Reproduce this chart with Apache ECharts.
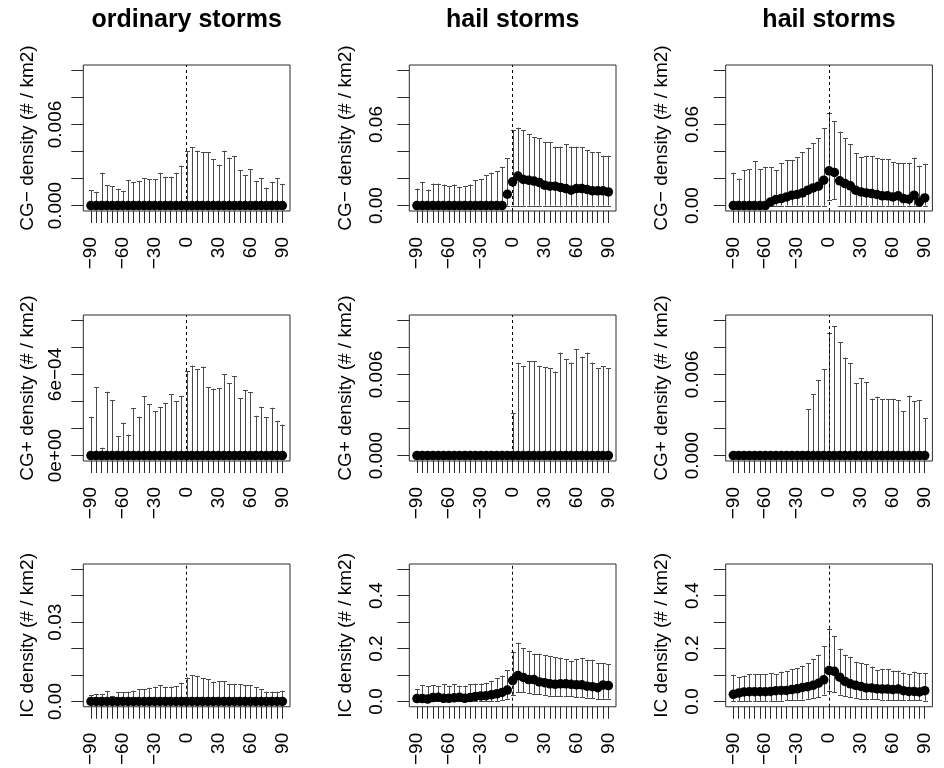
<!DOCTYPE html>
<html><head><meta charset="utf-8">
<script src="https://cdn.jsdelivr.net/npm/echarts@6/dist/echarts.min.js"></script>
<style>html,body{margin:0;padding:0;background:#fff}#c{width:944px;height:768px}</style>
</head><body><div id="c"></div>
<script>
// ---------- data ----------
const offsets = [-90,-85,-80,-75,-70,-65,-60,-55,-50,-45,-40,-35,-30,-25,-20,-15,-10,-5,0,5,10,15,20,25,30,35,40,45,50,55,60,65,70,75,80,85,90];
const xLabelValues = [-90,-60,-30,0,30,60,90];
const xLabelText = ["\u221290","\u221260","\u221230","0","30","60","90"];

const columnTitles = ["ordinary storms","hail storms","hail storms"];
const rowTitles = ["CG\u2212 density (# / km2)","CG+ density (# / km2)","IC density (# / km2)"];

// CG- , ordinary storms
const ordCGnMedian = [0,0,0,0,0,0,0,0,0,0,0,0,0,0,0,0,0,0,0,0,0,0,0,0,0,0,0,0,0,0,0,0,0,0,0,0,0];
const ordCGnLower  = [0,0,0,0,0,0,0,0,0,0,0,0,0,0,0,0,0,0,0,0,0,0,0,0,0,0,0,0,0,0,0,0,0,0,0,0,0];
const ordCGnUpper  = [0.00114,0.00102,0.00243,0.00149,0.00144,0.00124,0.00109,0.00188,0.00171,0.00183,0.00201,0.00196,0.00196,0.00243,0.00213,0.00213,0.00243,0.00295,0.00404,0.00434,0.00406,0.00394,0.00394,0.00342,0.00302,0.00406,0.00354,0.00367,0.00263,0.00223,0.00268,0.00183,0.00203,0.00131,0.00176,0.00203,0.00161];
// CG- , hail storms (A)
const hailACGnMedian = [0,0,0,0,0,0,0,0,0,0,0,0,0,0,0,0,0,0.0084,0.0176,0.0218,0.0193,0.0188,0.0181,0.0171,0.0151,0.0144,0.0144,0.0134,0.0126,0.0114,0.0126,0.0126,0.0119,0.0109,0.0109,0.0109,0.0101];
const hailACGnLower  = [0,0,0,0,0,0,0,0,0,0,0,0,0,0,0,0,0,0,0,0,0,0,0,0,0,0,0,0,0,0,0,0,0,0,0,0,0];
const hailACGnUpper  = [0.0126,0.0176,0.0119,0.0163,0.0163,0.0156,0.0144,0.0156,0.0139,0.0144,0.0156,0.0188,0.0198,0.0223,0.0243,0.0255,0.0287,0.0349,0.0559,0.0577,0.0559,0.0527,0.0505,0.0497,0.0468,0.0468,0.0436,0.0436,0.0453,0.0436,0.0436,0.0431,0.0411,0.0394,0.0394,0.0369,0.0369];
// CG- , hail storms (B)
const hailBCGnMedian = [0,0,0,0,0,0,0,0.0027,0.0045,0.0052,0.0064,0.0077,0.0082,0.0094,0.0114,0.0131,0.0144,0.0188,0.0257,0.0245,0.0183,0.0163,0.0146,0.0114,0.0101,0.0094,0.0089,0.0082,0.0072,0.0072,0.0064,0.0072,0.0052,0.0047,0.0077,0.0027,0.0057];
const hailBCGnLower  = [0,0,0,0,0,0,0,0,0,0,0,0,0,0,0,0,0,0,0.0040,0.0047,0,0,0,0,0,0,0,0,0,0,0,0,0,0,0,0,0];
const hailBCGnUpper  = [0.0243,0.0200,0.0262,0.0270,0.0329,0.0270,0.0287,0.0282,0.0262,0.0312,0.0337,0.0337,0.0356,0.0394,0.0428,0.0460,0.0497,0.0572,0.0688,0.0626,0.0547,0.0497,0.0453,0.0386,0.0361,0.0366,0.0366,0.0349,0.0347,0.0344,0.0319,0.0317,0.0312,0.0317,0.0354,0.0295,0.0307];
// CG+ , ordinary storms
const ordCGpMedian = [0,0,0,0,0,0,0,0,0,0,0,0,0,0,0,0,0,0,0,0,0,0,0,0,0,0,0,0,0,0,0,0,0,0,0,0,0];
const ordCGpLower  = [0,0,0,0,0,0,0,0,0,0,0,0,0,0,0,0,0,0,0,0,0,0,0,0,0,0,0,0,0,0,0,0,0,0,0,0,0];
const ordCGpUpper  = [0.000287,0.000505,0.000059,0.000473,0.000411,0.000144,0.000243,0.000156,0.000349,0.000287,0.000441,0.000381,0.000329,0.000356,0.000389,0.000453,0.000403,0.000441,0.000626,0.000666,0.000641,0.000658,0.000505,0.000495,0.000500,0.000604,0.000535,0.000589,0.000423,0.000483,0.000468,0.000295,0.000361,0.000282,0.000354,0.000257,0.000230];
// CG+ , hail storms (A)
const hailACGpMedian = [0,0,0,0,0,0,0,0,0,0,0,0,0,0,0,0,0,0,0,0,0,0,0,0,0,0,0,0,0,0,0,0,0,0,0,0,0];
const hailACGpLower  = [0,0,0,0,0,0,0,0,0,0,0,0,0,0,0,0,0,0,0,0,0,0,0,0,0,0,0,0,0,0,0,0,0,0,0,0,0];
const hailACGpUpper  = [0,0,0,0,0,0,0,0,0,0,0,0,0,0,0,0,0,0,0.00312,0.00688,0.00663,0.00700,0.00700,0.00663,0.00653,0.00648,0.00621,0.00762,0.00713,0.00688,0.00787,0.00733,0.00762,0.00688,0.00648,0.00661,0.00646];
// CG+ , hail storms (B)
const hailBCGpMedian = [0,0,0,0,0,0,0,0,0,0,0,0,0,0,0,0,0,0,0,0,0,0,0,0,0,0,0,0,0,0,0,0,0,0,0,0,0];
const hailBCGpLower  = [0,0,0,0,0,0,0,0,0,0,0,0,0,0,0,0,0,0,0,0,0,0,0,0,0,0,0,0,0,0,0,0,0,0,0,0,0];
const hailBCGpUpper  = [0,0,0,0,0,0,0,0,0,0,0,0,0,0,0.00344,0.00455,0.00557,0.00641,0.00906,0.00955,0.00837,0.00725,0.00683,0.00535,0.00572,0.00542,0.00421,0.00436,0.00416,0.00416,0.00421,0.00411,0.00329,0.00443,0.00403,0.00411,0.00275];
// IC , ordinary storms
const ordICMedian = [0,0,0,0,0,0,0,0,0,0,0,0,0,0,0,0,0,0,0,0,0,0,0,0,0,0,0,0,0,0,0,0,0,0,0,0,0];
const ordICLower  = [0,0,0,0,0,0,0,0,0,0,0,0,0,0,0,0,0,0,0,0,0,0,0,0,0,0,0,0,0,0,0,0,0,0,0,0,0];
const ordICUpper  = [0.00248,0.00285,0.00285,0.00397,0.00211,0.00347,0.00347,0.00372,0.00410,0.00472,0.00472,0.00521,0.00558,0.00621,0.00558,0.00558,0.00583,0.00707,0.00906,0.00993,0.00968,0.00894,0.00844,0.00745,0.00769,0.00769,0.00670,0.00645,0.00645,0.00621,0.00621,0.00546,0.00472,0.00372,0.00372,0.00372,0.00410];
// IC , hail storms (A)
const hailAICMedian = [0.011,0.011,0.009,0.015,0.016,0.012,0.012,0.014,0.016,0.012,0.015,0.019,0.021,0.022,0.025,0.029,0.034,0.043,0.079,0.098,0.091,0.083,0.083,0.074,0.071,0.067,0.065,0.067,0.067,0.065,0.063,0.063,0.058,0.056,0.052,0.062,0.060];
const hailAICLower  = [0,0,0,0,0,0,0,0,0,0,0,0,0,0,0,0,0.006,0.010,0.025,0.035,0.034,0.031,0.029,0.027,0.025,0.022,0.021,0.020,0.020,0.019,0.017,0.016,0.015,0.012,0.009,0.010,0.011];
const hailAICUpper  = [0.047,0.062,0.058,0.062,0.058,0.065,0.060,0.065,0.060,0.060,0.065,0.068,0.068,0.071,0.078,0.087,0.098,0.118,0.189,0.223,0.202,0.192,0.181,0.181,0.174,0.171,0.168,0.165,0.161,0.154,0.161,0.165,0.158,0.158,0.145,0.145,0.140];
// IC , hail storms (B)
const hailBICMedian = [0.027,0.032,0.036,0.037,0.037,0.037,0.037,0.038,0.041,0.042,0.042,0.045,0.048,0.053,0.056,0.061,0.069,0.082,0.117,0.114,0.092,0.076,0.067,0.061,0.057,0.051,0.051,0.048,0.047,0.047,0.045,0.047,0.041,0.038,0.038,0.036,0.041];
const hailBICLower  = [0.002,0.002,0.002,0.002,0.002,0.002,0.002,0.002,0.003,0.003,0.004,0.005,0.007,0.007,0.010,0.014,0.017,0.026,0.041,0.036,0.026,0.020,0.016,0.014,0.011,0.009,0.008,0.008,0.007,0.006,0.006,0.005,0.005,0.004,0.004,0.004,0.003];
const hailBICUpper  = [0.101,0.092,0.098,0.104,0.103,0.103,0.103,0.107,0.104,0.113,0.115,0.122,0.125,0.135,0.146,0.159,0.177,0.210,0.274,0.246,0.200,0.177,0.169,0.150,0.144,0.140,0.132,0.119,0.122,0.122,0.117,0.117,0.109,0.104,0.113,0.107,0.107];

// y-axis ticks and labels
const cgnOrdYTicks = [0,0.002,0.004,0.006,0.008,0.010];
const cgnOrdYLabelValues = [0,0.006];
const cgnOrdYLabelText = ["0.000","0.006"];
const cgnHailYTicks = [0,0.02,0.04,0.06,0.08,0.10];
const cgnHailYLabelValues = [0,0.06];
const cgnHailYLabelText = ["0.00","0.06"];
const cgpOrdYTicks = [0,0.0002,0.0004,0.0006,0.0008,0.0010];
const cgpOrdYLabelValues = [0,0.0006];
const cgpOrdYLabelText = ["0e+00","6e\u221204"];
const cgpHailYTicks = [0,0.002,0.004,0.006,0.008,0.010];
const cgpHailYLabelValues = [0,0.006];
const cgpHailYLabelText = ["0.000","0.006"];
const icOrdYTicks = [0,0.01,0.02,0.03,0.04,0.05];
const icOrdYLabelValues = [0,0.03];
const icOrdYLabelText = ["0.00","0.03"];
const icHailYTicks = [0,0.1,0.2,0.3,0.4,0.5];
const icHailYLabelValues = [0,0.2,0.4];
const icHailYLabelText = ["0.0","0.2","0.4"];

// ---------- layout ----------
const FONT = "'Liberation Sans', Arial, Helvetica, sans-serif";
const colLeft = [83.3, 409.3, 725.7];
const boxW = 206.7;
const rowTop = [65, 315, 564];
const boxH = [146, 146, 145];
const labelMargin = [18, 23, 23];
const nameGap = [46, 54, 54];

const panels = [
  {r:0,c:0,med:ordCGnMedian,lo:ordCGnLower,hi:ordCGnUpper,t:cgnOrdYTicks,lv:cgnOrdYLabelValues,lt:cgnOrdYLabelText},
  {r:0,c:1,med:hailACGnMedian,lo:hailACGnLower,hi:hailACGnUpper,t:cgnHailYTicks,lv:cgnHailYLabelValues,lt:cgnHailYLabelText},
  {r:0,c:2,med:hailBCGnMedian,lo:hailBCGnLower,hi:hailBCGnUpper,t:cgnHailYTicks,lv:cgnHailYLabelValues,lt:cgnHailYLabelText},
  {r:1,c:0,med:ordCGpMedian,lo:ordCGpLower,hi:ordCGpUpper,t:cgpOrdYTicks,lv:cgpOrdYLabelValues,lt:cgpOrdYLabelText},
  {r:1,c:1,med:hailACGpMedian,lo:hailACGpLower,hi:hailACGpUpper,t:cgpHailYTicks,lv:cgpHailYLabelValues,lt:cgpHailYLabelText},
  {r:1,c:2,med:hailBCGpMedian,lo:hailBCGpLower,hi:hailBCGpUpper,t:cgpHailYTicks,lv:cgpHailYLabelValues,lt:cgpHailYLabelText},
  {r:2,c:0,med:ordICMedian,lo:ordICLower,hi:ordICUpper,t:icOrdYTicks,lv:icOrdYLabelValues,lt:icOrdYLabelText},
  {r:2,c:1,med:hailAICMedian,lo:hailAICLower,hi:hailAICUpper,t:icHailYTicks,lv:icHailYLabelValues,lt:icHailYLabelText},
  {r:2,c:2,med:hailBICMedian,lo:hailBICLower,hi:hailBICUpper,t:icHailYTicks,lv:icHailYLabelValues,lt:icHailYLabelText}
];

function errRender(params, api) {
  const x = api.value(0), lo = api.value(1), hi = api.value(2);
  if (hi === lo) return null;
  const pLo = api.coord([x, lo]), pHi = api.coord([x, hi]);
  const px = Math.round(pLo[0]) + 0.5;
  const cap = 2.5;
  const st = {stroke:'#4a4a4a', lineWidth:1, fill:null};
  return {type:'group', children:[
    {type:'line', shape:{x1:px,y1:pLo[1],x2:px,y2:pHi[1]}, style:st},
    {type:'line', shape:{x1:px-cap,y1:Math.round(pHi[1])+0.5,x2:px+cap,y2:Math.round(pHi[1])+0.5}, style:st},
    {type:'line', shape:{x1:px-cap,y1:Math.round(pLo[1])+0.5,x2:px+cap,y2:Math.round(pLo[1])+0.5}, style:st}
  ]};
}

const xSpan = offsets[offsets.length-1] - offsets[0];
const grid = [], xAxis = [], yAxis = [], series = [];
panels.forEach((p, i) => {
  grid.push({left:colLeft[p.c], top:rowTop[p.r], width:boxW, height:boxH[p.r],
    show:true, borderColor:'#2a2a2a', borderWidth:1, backgroundColor:'transparent', containLabel:false});
  const pad = 0.04 * xSpan;
  xAxis.push({gridIndex:i, type:'value', min:offsets[0]-pad, max:offsets[offsets.length-1]+pad,
    axisLine:{show:false, onZero:false}, splitLine:{show:false},
    axisTick:{show:true, inside:false, length:12, customValues:offsets, lineStyle:{color:'#2a2a2a', width:1}},
    axisLabel:{show:true, customValues:xLabelValues, rotate:90, margin:26, fontSize:19, fontFamily:FONT, color:'#000',
      formatter: v => { const k = xLabelValues.findIndex(q => Math.abs(q - v) < 1e-9); return k >= 0 ? xLabelText[k] : ''; }}
  });
  const yt = p.t, ySpan = yt[yt.length-1] - yt[0];
  yAxis.push({gridIndex:i, type:'value', min:yt[0]-0.04*ySpan, max:yt[yt.length-1]+0.04*ySpan,
    axisLine:{show:false, onZero:false}, splitLine:{show:false},
    axisTick:{show:true, inside:false, length:12, customValues:yt, lineStyle:{color:'#2a2a2a', width:1}},
    axisLabel:{show:true, customValues:p.lv, rotate:90, margin:labelMargin[p.c], fontSize:19, fontFamily:FONT, color:'#000',
      formatter: v => { const k = p.lv.findIndex(q => Math.abs(q - v) < ySpan*1e-6); return k >= 0 ? p.lt[k] : ''; }},
    name: rowTitles[p.r], nameLocation:'middle', nameRotate:90, nameGap:nameGap[p.c],
    nameTextStyle:{fontSize:19, fontFamily:FONT, color:'#000'}
  });
  series.push({type:'custom', xAxisIndex:i, yAxisIndex:i, renderItem:errRender, silent:true, z:2,
    data: offsets.map((x, k) => [x, p.lo[k], p.hi[k]]),
    markLine:{silent:true, symbol:'none', label:{show:false}, animation:false,
      lineStyle:{color:'#000', type:[3,3], width:1, opacity:1}, data:[{xAxis:0}]}
  });
  series.push({type:'scatter', xAxisIndex:i, yAxisIndex:i, symbol:'circle', symbolSize:9.5, silent:true, z:3,
    itemStyle:{color:'#000', borderWidth:0, opacity:1},
    data: offsets.map((x, k) => [x, p.med[k]])
  });
});

const graphic = columnTitles.map((t, c) => ({type:'text', x: colLeft[c] + boxW/2, y: 20,
  style:{text:t, font:"bold 25px " + FONT, fill:'#000', textAlign:'center', textVerticalAlign:'middle'}}));

const chart = echarts.init(document.getElementById('c'), null, {renderer:'canvas'});
chart.setOption({animation:false, backgroundColor:'#fff', grid, xAxis, yAxis, series, graphic});
</script>
</body></html>
